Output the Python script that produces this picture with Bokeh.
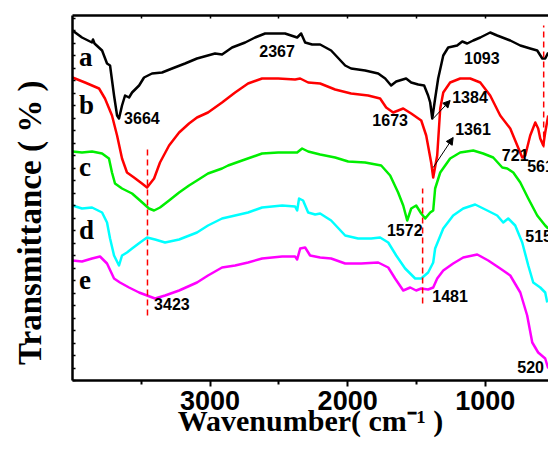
from bokeh.plotting import figure
from bokeh.models import (Range1d, LinearAxis, FixedTicker, SingleIntervalTicker,
                          CustomJSTickFormatter, Arrow, NormalHead, ColumnDataSource)
from bokeh.core.properties import value
from bokeh.embed import file_html
from bokeh.resources import INLINE

# ---------------- data (arbitrary transmittance units) -------------
wn_a = [4000, 3931, 3858, 3851, 3840, 3785, 3749, 3727, 3698, 3676, 3662, 3640, 3618, 3589, 3567, 3516,
        3480, 3422, 3349, 3276, 3182, 3095, 2964, 2913, 2840, 2745, 2673, 2600, 2455, 2367, 2338, 2309,
        2258, 2200, 2120, 2018, 1975, 1873, 1778, 1727, 1684, 1647, 1575, 1538, 1487, 1444, 1415, 1400,
        1385, 1364, 1342, 1305, 1269, 1204, 1167, 1131, 1087, 1036, 964, 913, 818, 745, 673, 622, 585,
        564, 542]
t_a = [350, 343, 338, 341, 337, 330, 317, 315, 285, 265, 262, 275, 285, 283, 288, 295,
       303, 307, 308, 312, 317, 322, 327, 326, 333, 338, 343, 347, 347, 343, 347, 338,
       336, 336, 330, 315, 312, 310, 307, 302, 295, 299, 302, 298, 296, 295, 285, 278,
       262, 282, 302, 325, 333, 335, 339, 337, 340, 343, 348, 345, 340, 335, 332, 330, 322,
       322, 328]

wn_b = [4000, 3909, 3807, 3764, 3713, 3676, 3640, 3604, 3553, 3495, 3458, 3407, 3364, 3298, 3225, 3153,
        3095, 3015, 2913, 2818, 2724, 2622, 2505, 2382, 2345, 2287, 2200, 2091, 1975, 1851, 1764, 1720,
        1669, 1596, 1538, 1465, 1429, 1393, 1378, 1349, 1327, 1305, 1255, 1182, 1109, 1036, 964, 891,
        818, 767, 731, 709, 673, 636, 615, 600, 578, 564, 542]
t_b = [303, 298, 292, 282, 265, 245, 222, 208, 203, 197, 193, 202, 218, 235, 248, 257,
       263, 268, 278, 288, 297, 302, 302, 301, 302, 298, 297, 291, 287, 285, 282, 273,
       268, 272, 267, 260, 245, 218, 203, 225, 272, 288, 298, 302, 302, 298, 285, 265,
       252, 235, 223, 225, 245, 258, 252, 242, 235, 248, 265]

wn_c = [4000, 3931, 3858, 3785, 3735, 3713, 3691, 3640, 3567, 3509, 3444, 3407, 3364, 3298, 3225, 3153,
        3095, 3015, 2913, 2869, 2767, 2622, 2505, 2367, 2331, 2287, 2200, 2091, 1996, 1873, 1756, 1691,
        1633, 1596, 1567, 1538, 1502, 1465, 1436, 1400, 1378, 1364, 1327, 1255, 1182, 1087, 1015, 942,
        876, 840, 796, 745, 687, 622, 564, 542]
t_c = [229, 228, 229, 227, 222, 208, 197, 192, 187, 180, 172, 170, 173, 180, 188, 195,
       200, 207, 212, 215, 220, 227, 228, 228, 232, 229, 226, 223, 219, 218, 215, 205,
       188, 175, 160, 172, 175, 167, 162, 168, 170, 192, 208, 222, 228, 230, 227, 223,
       213, 212, 208, 198, 182, 165, 155, 152]

wn_d = [4000, 3931, 3858, 3785, 3749, 3727, 3698, 3662, 3640, 3604, 3567, 3509, 3458, 3400, 3327, 3225,
        3095, 3015, 2913, 2818, 2724, 2622, 2476, 2382, 2367, 2353, 2324, 2287, 2236, 2200, 2120, 2018,
        1924, 1829, 1764, 1705, 1647, 1582, 1509, 1465, 1415, 1378, 1364, 1305, 1233, 1160, 1073, 985,
        913, 869, 833, 782, 731, 687, 651, 600, 564, 549]
t_d = [175, 172, 173, 168, 158, 142, 125, 115, 125, 128, 132, 138, 143, 141, 138, 141,
       148, 155, 162, 165, 168, 173, 175, 174, 170, 182, 180, 168, 166, 167, 160, 145,
       142, 142, 143, 138, 125, 112, 102, 102, 108, 118, 132, 152, 165, 172, 176, 170,
       165, 158, 162, 155, 138, 115, 98, 93, 88, 78]

wn_e = [4000, 3931, 3858, 3800, 3749, 3698, 3655, 3589, 3516, 3458, 3400, 3327, 3225, 3095, 3015, 2913,
        2818, 2724, 2622, 2476, 2382, 2367, 2345, 2309, 2273, 2200, 2120, 2018, 1902, 1778, 1705, 1655,
        1596, 1545, 1502, 1465, 1415, 1378, 1349, 1305, 1233, 1160, 1058, 978, 891, 818, 745, 695,
        658, 615, 564, 542]
t_e = [120, 119, 122, 124, 117, 102, 98, 93, 88, 85, 82, 85, 90, 98, 105, 113,
       115, 118, 122, 124, 124, 121, 132, 133, 125, 123, 122, 117, 117, 118, 113, 102,
       90, 93, 90, 92, 91, 93, 102, 110, 117, 123, 126, 120, 112, 105, 88, 65,
       38, 28, 22, 12]

curve_colors = ["#000000", "#FF0000", "#00EE00", "#00FFFF", "#FF00FF"]
curve_names = ["a", "b", "c", "d", "e"]
name_x = [3953, 3953, 3953, 3953, 3953]
name_y = [324, 276, 214, 151, 101]

# peak annotations
peak_text = ["3664", "2367", "1673", "1572", "1093", "1384", "1361", "721", "561", "515", "1481", "520", "3423"]
peak_x = [3625, 2513, 1691, 1585, 1025, 1240, 1218, 782, 695, 709, 1385, 767, 3407]
peak_y = [263, 330, 261, 151, 323, 284, 252, 226, 215, 145, 85, 14, 77]
peak_align = ["left", "center", "center", "center", "center", "left", "left", "center", "left", "left",
              "left", "left", "left"]

# red dashed guide lines
dash_x = [3455, 1455, 575]
dash_y0 = [65, 77, 233]
dash_y1 = [234, 192, 355]

# arrows
arrow_x0 = [1378, 1378]
arrow_y0 = [262, 213]
arrow_x1 = [1255, 1233]
arrow_y1 = [280, 243]

# ---------------- figure -------------
NBSP = "\u00a0"
p = figure(width=548, height=455, output_backend="svg", toolbar_location=None,
           x_range=Range1d(4000, 540), y_range=Range1d(0, 365),
           min_border_left=72, min_border_right=0, min_border_top=15, min_border_bottom=75,
           x_axis_label="Wavenumber( cm\u207b\u00b9 )",
           y_axis_label="Transmittance ( % )" + NBSP * 6)
p.outline_line_color = None
p.grid.visible = False
p.background_fill_color = "white"
p.border_fill_color = "white"

xa = p.xaxis[0]
xa.ticker = FixedTicker(ticks=[1000, 2000, 3000], minor_ticks=[500, 1500, 2500, 3500])
xa.axis_line_width = 2.5
xa.major_tick_out = 6
xa.major_tick_in = 0
xa.major_tick_line_width = 2
xa.minor_tick_out = 4
xa.minor_tick_in = 0
xa.minor_tick_line_width = 2
xa.major_label_text_font = "Liberation Sans"
xa.major_label_text_font_style = "bold"
xa.major_label_text_font_size = "27px"
xa.major_label_text_color = "black"
xa.major_label_standoff = 4
xa.axis_label_text_font = "Liberation Serif"
xa.axis_label_text_font_style = "bold"
xa.axis_label_text_font_size = "30px"
xa.axis_label_text_color = "black"
xa.axis_label_standoff = -9

ya = p.yaxis[0]
ya.ticker = SingleIntervalTicker(interval=12.5, num_minor_ticks=0)
ya.formatter = CustomJSTickFormatter(code="return ''")
ya.major_tick_in = 3
ya.major_tick_out = 0
ya.major_tick_line_width = 1.5
ya.minor_tick_in = 0
ya.minor_tick_out = 0
ya.major_label_standoff = 0
ya.major_label_text_font_size = "0px"
ya.axis_line_width = 2.5
ya.axis_label_text_font = "Liberation Serif"
ya.axis_label_text_font_style = "bold"
ya.axis_label_text_font_size = "33px"
ya.axis_label_text_color = "black"
ya.axis_label_standoff = 25

top = LinearAxis(ticker=FixedTicker(ticks=[1000, 1500, 2000, 2500, 3000, 3500], minor_ticks=[]),
                 formatter=CustomJSTickFormatter(code="return ''"),
                 major_tick_in=3, major_tick_out=0, minor_tick_in=0, minor_tick_out=0,
                 major_tick_line_width=1.5, axis_line_width=2.5,
                 major_label_text_font_size="0px", major_label_standoff=0)
p.add_layout(top, "above")

series = [(wn_a, t_a), (wn_b, t_b), (wn_c, t_c), (wn_d, t_d), (wn_e, t_e)]
for (xs, ys), col in zip(series, curve_colors):
    p.line(xs, ys, line_color=col, line_width=2.5, line_join="round")

p.segment(x0=dash_x, y0=dash_y0, x1=dash_x, y1=dash_y1, line_color="#FF0000",
          line_width=1.5, line_dash="6 4")

p.text(x=name_x, y=name_y, text=curve_names, text_font=value("Liberation Serif"),
       text_font_style="bold", text_font_size="27px", text_color="black",
       text_align="left", text_baseline="alphabetic")

peak_src = ColumnDataSource(dict(x=peak_x, y=peak_y, text=peak_text, align=peak_align))
p.text(x="x", y="y", text="text", text_align="align", source=peak_src,
       text_font=value("Liberation Sans"), text_font_style="bold", text_font_size="16px",
       text_color="black", text_baseline="middle")

for x0, y0, x1, y1 in zip(arrow_x0, arrow_y0, arrow_x1, arrow_y1):
    p.add_layout(Arrow(end=NormalHead(size=7, fill_color="black", line_color="black", line_width=1),
                       x_start=x0, y_start=y0, x_end=x1, y_end=y1,
                       line_color="black", line_width=1))

open("out.html", "w").write(file_html(p, INLINE))
